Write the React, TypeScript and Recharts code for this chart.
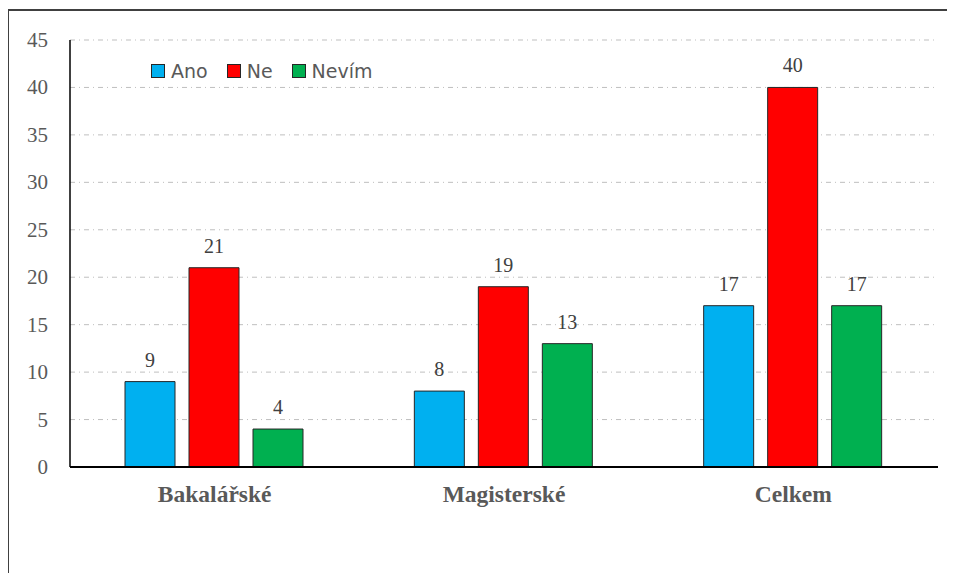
import { Bar, BarChart, CartesianGrid, LabelList, XAxis, YAxis } from "recharts";

const categories = ["Bakalářské", "Magisterské", "Celkem"];
const ano = [9, 8, 17];
const ne = [21, 19, 40];
const nevim = [4, 13, 17];
const yTicks = [0, 5, 10, 15, 20, 25, 30, 35, 40, 45];

const series = [
  { key: "ano", name: "Ano", color: "#00B0F0" },
  { key: "ne", name: "Ne", color: "#FF0000" },
  { key: "nevim", name: "Nevím", color: "#00B050" },
];

const data = categories.map((name, i) => ({
  name,
  ano: ano[i],
  ne: ne[i],
  nevim: nevim[i],
}));

const serif = "'Liberation Serif', 'Times New Roman', serif";

function YTick(props: any) {
  const { x, y, payload } = props;
  return (
    <text
      x={x}
      y={y}
      dy={7}
      textAnchor="end"
      style={{ fontFamily: serif, fontSize: 21, fill: "#595959" }}
    >
      {payload.value}
    </text>
  );
}

function XTick(props: any) {
  const { x, y, payload } = props;
  return (
    <text
      x={x}
      y={y}
      dy={21}
      textAnchor="middle"
      style={{ fontFamily: serif, fontSize: 23.5, fontWeight: "bold", fill: "#595959" }}
    >
      {payload.value}
    </text>
  );
}

export default function App() {
  return (
    <div style={{ position: "relative", width: 955, height: 581, margin: -8, overflow: "hidden", background: "#fff" }}>
      <div
        style={{
          position: "absolute",
          left: 7,
          top: 9,
          width: 1000,
          height: 700,
          borderTop: "2px solid #404040",
          borderLeft: "2px solid #404040",
        }}
      />
      <div style={{ position: "absolute", left: 0, top: 0 }}>
        <BarChart
          width={955}
          height={581}
          data={data}
          margin={{ top: 40, right: 17, bottom: 0, left: 0 }}
          barCategoryGap={55}
          barGap={14}
        >
          <CartesianGrid
            vertical={false}
            stroke="#bfbfbf"
            strokeDasharray="5 4 1 4"
          />
          <XAxis
            dataKey="name"
            height={114}
            axisLine={{ stroke: "#000", strokeWidth: 2 }}
            tickLine={false}
            tickSize={0}
            tickMargin={14}
            tick={<XTick />}
          />
          <YAxis
            width={70}
            domain={[0, 45]}
            ticks={yTicks}
            interval={0}
            axisLine={{ stroke: "#000", strokeWidth: 1.5 }}
            tickLine={false}
            tickSize={0}
            tickMargin={22}
            tick={<YTick />}
          />
          {series.map((s) => (
            <Bar
              key={s.key}
              dataKey={s.key}
              name={s.name}
              fill={s.color}
              stroke="#262626"
              strokeWidth={1}
              isAnimationActive={false}
            >
              <LabelList
                dataKey={s.key}
                position="top"
                offset={15}
                style={{ fontFamily: serif, fontSize: 20, fill: "#404040" }}
              />
            </Bar>
          ))}
        </BarChart>
      </div>
      <div
        style={{
          position: "absolute",
          left: 151,
          top: 60,
          display: "flex",
          alignItems: "center",
          fontFamily: "'DejaVu Sans', sans-serif",
          fontSize: 19,
          color: "#595959",
        }}
      >
        {series.map((s) => (
          <div key={s.key} style={{ display: "flex", alignItems: "center", marginRight: 19 }}>
            <span
              style={{
                display: "inline-block",
                width: 12,
                height: 12,
                background: s.color,
                border: "1px solid #262626",
                marginRight: 6,
              }}
            />
            <span>{s.name}</span>
          </div>
        ))}
      </div>
    </div>
  );
}
